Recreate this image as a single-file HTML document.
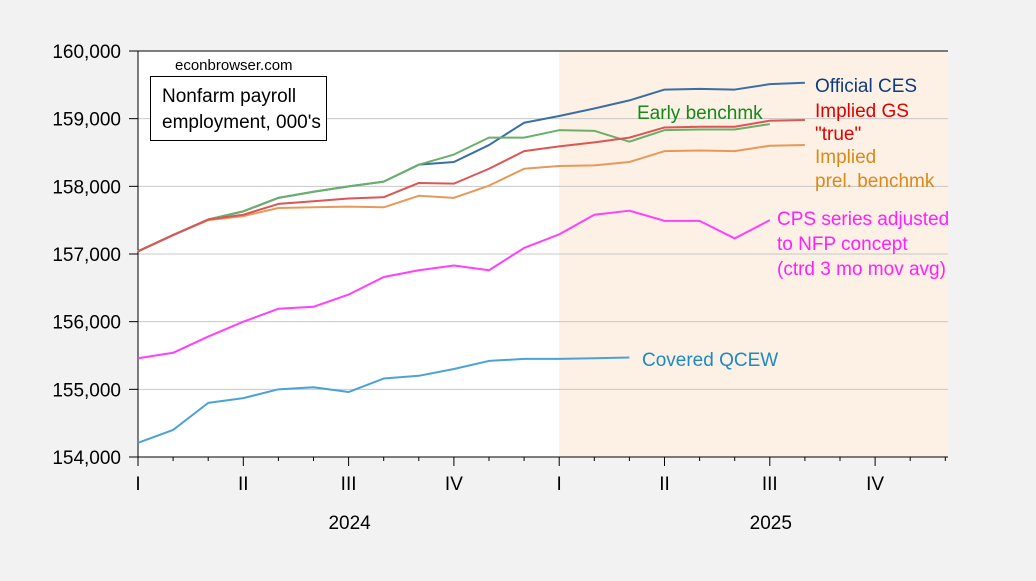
<!DOCTYPE html>
<html><head><meta charset="utf-8"><style>
body{margin:0;background:#f2f2f2;font-family:"Liberation Sans",Arial,sans-serif;}
svg text{font-family:"Liberation Sans",Arial,sans-serif;}
</style></head><body>
<svg id="c" width="1036" height="576" xmlns="http://www.w3.org/2000/svg">
<rect width="1036" height="576" fill="#f2f2f2"/>
<g id="plot"></g>
</svg>
<script>
const yTicks=[154000,155000,156000,157000,158000,159000,160000];
const ces=[157040,157280,157510,157630,157830,157920,158000,158070,158320,158360,158610,158940,159040,159150,159270,159430,159440,159430,159510,159530];
const early=[157040,157280,157510,157630,157830,157920,158000,158070,158320,158470,158720,158720,158830,158820,158660,158830,158840,158840,158920];
const gs=[157040,157280,157510,157580,157740,157780,157820,157840,158050,158040,158260,158520,158590,158650,158720,158870,158880,158880,158970,158980];
const prel=[157040,157280,157500,157560,157680,157690,157700,157690,157860,157830,158010,158260,158300,158310,158360,158520,158530,158520,158600,158610];
const cps=[155460,155540,155780,156000,156190,156220,156400,156660,156760,156830,156760,157090,157290,157580,157640,157490,157490,157230,157500];
const qcew=[154210,154400,154800,154870,155000,155030,154960,155160,155200,155300,155420,155450,155450,155460,155470];
const quarterLabels=["I","II","III","IV","I","II","III","IV"];
const years=["2024","2025"];
const NS="http://www.w3.org/2000/svg";
const g=document.getElementById('plot');
const X0=138,X1=948,MW=35.1,Y0=457,Y1=51;
const x=i=>X0+i*MW;
const y=v=>Y0-(v-154000)/6000*(Y0-Y1);
function el(t,a,p){const e=document.createElementNS(NS,t);for(const k in a)e.setAttribute(k,a[k]);(p||g).appendChild(e);return e;}
let r=el('rect',{x:X0,y:Y1,width:X1-X0,height:Y0-Y1,fill:'#fff'});


r=el('rect',{x:x(12),y:Y1,width:X1-x(12),height:Y0-Y1,fill:'#fdf0e4'});


yTicks.forEach(v=>{
 const l=el('line',{x1:X0,x2:X1,y1:y(v),y2:y(v),stroke:'#c8c8c8','stroke-width':1});
 
 
 const tk=el('line',{x1:X0-9,x2:X0,y1:y(v),y2:y(v),stroke:'#000','stroke-width':1});
 
 
 const t=el('text',{x:121,y:y(v)+7,'text-anchor':'end','font-size':19,fill:'#000'});
 t.textContent=v.toLocaleString('en-US');
 
 
});
const fr=el('path',{d:`M${X0},${Y1}H${X1}M${X0},${Y1}V${Y0}H${X1}`,fill:'none',stroke:'#000','stroke-width':1});


for(let i=0;i<24;i++){
 const big=i%3===0;
 const l=el('line',{x1:x(i),x2:x(i),y1:Y0,y2:Y0+(big?9:4),stroke:'#000'});
 
 
}
quarterLabels.forEach((q,k)=>{
 const t=el('text',{x:x(k*3),y:490,'text-anchor':'middle','font-size':19,fill:'#000'});
 t.textContent=q;
 
 
});
years.forEach((yr,k)=>{
 const t=el('text',{x:x(k*12+6)+1,y:529,'text-anchor':'middle','font-size':19,fill:'#000'});
 t.textContent=yr;
 
 
});
function series(d,c,name){
 const p=el('polyline',{points:d.map((v,i)=>x(i)+','+y(v)).join(' '),fill:'none',stroke:c,'stroke-width':2,'stroke-linejoin':'round'});
 
 
}
series(qcew,'#4aa3d4','qcew-line');
series(cps,'#ff40ff','cps-line');
series(prel,'#e8995a','implied-prel-benchmark-line');
series(ces,'#3a6ea5','official-ces-line');
series(early,'#6aaf6a','early-benchmark-line');
series(gs,'#dd5555','implied-gs-line');
function lab(txt,xx,yy,c,name){
 const t=el('text',{x:xx,y:yy,'font-size':19,fill:c});
 t.textContent=txt;
 
 
}
lab('Official CES',815,92,'#0d3d80','label-official-ces');
lab('Implied GS',815,117,'#e00000','label-implied-gs');
lab('"true"',815,140,'#e00000','label-true');
lab('Implied',815,163,'#d98a1a','label-implied-prel');
lab('prel. benchmk',815,187,'#d98a1a','label-prel-benchmk');
lab('Early benchmk',637,119,'#138a1a','label-early-benchmk');
lab('CPS series adjusted',777,225,'#ff20ff','label-cps-1');
lab('to NFP concept',777,250,'#ff20ff','label-cps-2');
lab('(ctrd 3 mo mov avg)',777,275,'#ff20ff','label-cps-3');
lab('Covered QCEW',642,366,'#1f8ac0','label-qcew');
const s=el('text',{x:175,y:70,'font-size':15,fill:'#000'});
s.textContent='econbrowser.com';


const b=el('rect',{x:150.5,y:76.5,width:176,height:64,fill:'#fff',stroke:'#000'});


lab('Nonfarm payroll',162,102,'#000','title-line-1');
lab('employment, 000\'s',162,128,'#000','title-line-2');
</script>
</body></html>
